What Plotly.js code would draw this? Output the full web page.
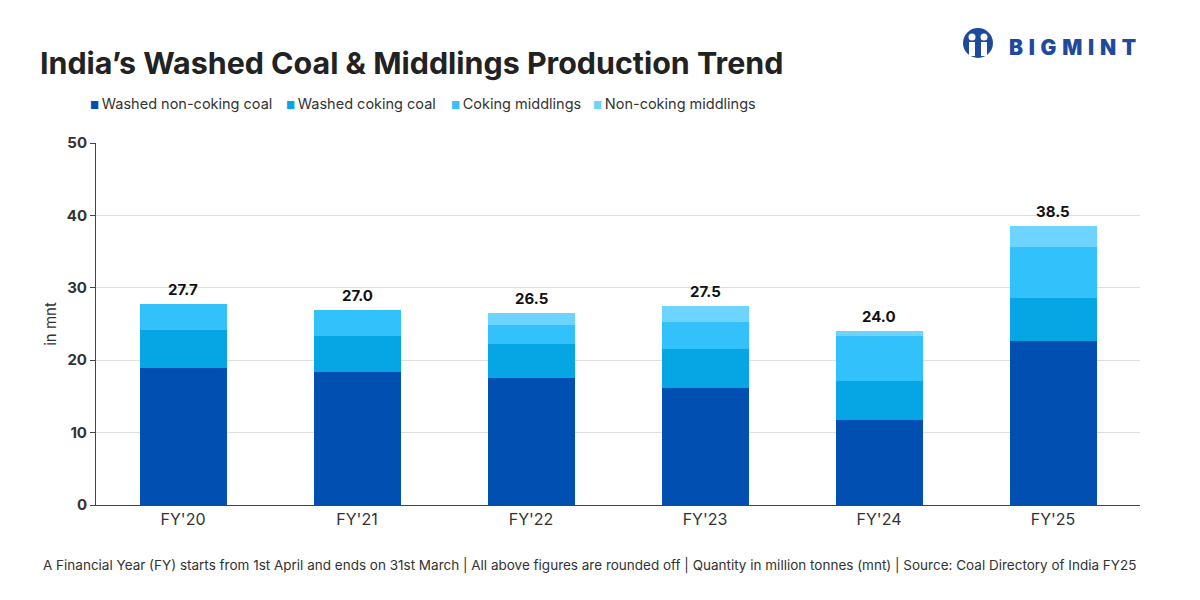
<!DOCTYPE html>
<html>
<head>
<meta charset="utf-8">
<script src="https://cdn.plot.ly/plotly-3.0.1.min.js"></script>
<style>html,body{margin:0;padding:0;background:#fff;}#chart{width:1200px;height:600px;}</style>
</head>
<body>
<div id="chart"></div>
<script>
const categories = ["FY'20", "FY'21", "FY'22", "FY'23", "FY'24", "FY'25"];
const washedNonCoking = [18.9, 18.4, 17.6, 16.2, 11.7, 22.6];
const washedCoking = [5.3, 4.9, 4.7, 5.3, 5.4, 6.0];
const cokingMiddlings = [3.5, 3.7, 2.5, 3.8, 6.2, 7.0];
const nonCokingMiddlings = [0, 0, 1.7, 2.2, 0.7, 2.9];
const totalLabels = ["27.7", "27.0", "26.5", "27.5", "24.0", "38.5"];
const seriesNames = ["Washed non-coking coal", "Washed coking coal", "Coking middlings", "Non-coking middlings"];
const seriesColors = ["#004FB1", "#05A6E3", "#33C1FB", "#6DD4FF"];
const seriesValues = [washedNonCoking, washedCoking, cokingMiddlings, nonCokingMiddlings];

// plot area in pixels
const PL = 96, PR = 1140, PT = 143, PB = 505;
const px = x => (x - PL) / (PR - PL);
const py = y => (PB - y) / (PB - PT);

const totals = categories.map((c, i) => seriesValues.reduce((s, arr) => s + arr[i], 0));

const traces = seriesValues.map((vals, k) => ({
  type: 'bar',
  name: seriesNames[k],
  x: categories,
  y: vals,
  marker: {color: seriesColors[k], line: {width: 0}},
  showlegend: false,
  hoverinfo: 'x+y+name'
}));

const FONT = 'Inter, Roboto, sans-serif';

const annotations = [];
// total labels
categories.forEach((c, i) => {
  annotations.push({
    x: c, y: totals[i], xref: 'x', yref: 'y',
    text: totalLabels[i], showarrow: false,
    yanchor: 'bottom', yshift: 3,
    font: {family: FONT, size: 15, color: '#111', weight: 'bold'}
  });
});
// legend (manual, to match compact spacing)
const legendX = [88, 284, 449, 591];
seriesNames.forEach((n, k) => {
  annotations.push({
    xref: 'paper', yref: 'paper', x: px(legendX[k]), y: py(104),
    xanchor: 'left', yanchor: 'middle', showarrow: false,
    text: '<span style="color:' + seriesColors[k] + ';font-size:10px">■</span>\u2009' + n,
    font: {family: FONT, size: 14.5, color: '#333'}
  });
});
// footnote
annotations.push({
  text: 'A Financial Year (FY) starts from 1st April and ends on 31st March | All above figures are rounded off | Quantity in million tonnes (mnt) | Source: Coal Directory of India FY25',
  xref: 'paper', yref: 'paper',
  x: px(589), y: py(565), xanchor: 'center', yanchor: 'middle',
  showarrow: false, font: {family: FONT, size: 13.5, color: '#333'}
});
// logo text
annotations.push({
  text: 'B\u2009\u2009I\u2009\u2009G\u2009\u2009M\u2009\u2009I\u2009\u2009N\u2009\u2009T',
  xref: 'paper', yref: 'paper',
  x: px(1007), y: py(48), xanchor: 'left', yanchor: 'middle',
  showarrow: false, font: {size: 21, color: '#1E4A9C', weight: 900, family: FONT}
});

const layout = {
  width: 1200,
  height: 600,
  barmode: 'stack',
  bargap: 0.5,
  showlegend: false,
  paper_bgcolor: '#fff',
  plot_bgcolor: '#fff',
  margin: {l: PL, r: 1200 - PR, t: PT, b: 600 - PB},
  font: {family: FONT, color: '#333', size: 15},
  title: {
    text: "India’s Washed Coal & Middlings Production Trend",
    font: {family: FONT, size: 30.4, color: '#222', weight: 'bold'},
    x: 40/1200, xanchor: 'left', xref: 'container',
    y: 1 - 63/600, yanchor: 'middle', yref: 'container'
  },
  xaxis: {
    type: 'category',
    showline: true, linecolor: '#444', linewidth: 1,
    ticks: '', showgrid: false,
    tickfont: {size: 16, color: '#333'}
  },
  yaxis: {
    range: [0, 50], dtick: 10,
    showline: true, linecolor: '#444', linewidth: 1,
    ticks: 'outside', ticklen: 5, tickcolor: '#444',
    gridcolor: '#dedede', gridwidth: 1,
    zeroline: false,
    tickfont: {size: 15, color: '#333', weight: 'bold'},
    title: {text: 'in mnt', font: {size: 15, color: '#333'}, standoff: 6}
  },
  annotations: annotations,
  shapes: [
    {type: 'circle', xref: 'paper', yref: 'paper', xsizemode: 'pixel', ysizemode: 'pixel',
     xanchor: px(978), yanchor: py(43), x0: -15, x1: 15, y0: -15, y1: 15,
     fillcolor: '#1E4A9C', line: {width: 0}},
    {type: 'circle', xref: 'paper', yref: 'paper', xsizemode: 'pixel', ysizemode: 'pixel',
     xanchor: px(972), yanchor: py(37), x0: -3.5, x1: 3.5, y0: -3.5, y1: 3.5,
     fillcolor: '#fff', line: {width: 0}},
    {type: 'circle', xref: 'paper', yref: 'paper', xsizemode: 'pixel', ysizemode: 'pixel',
     xanchor: px(984), yanchor: py(37), x0: -3.5, x1: 3.5, y0: -3.5, y1: 3.5,
     fillcolor: '#fff', line: {width: 0}},
    {type: 'rect', xref: 'paper', yref: 'paper', xsizemode: 'pixel', ysizemode: 'pixel',
     xanchor: px(972), yanchor: py(48), x0: -3, x1: 3, y0: -8, y1: 6,
     fillcolor: '#fff', line: {width: 0}},
    {type: 'rect', xref: 'paper', yref: 'paper', xsizemode: 'pixel', ysizemode: 'pixel',
     xanchor: px(984), yanchor: py(48), x0: -3, x1: 3, y0: -8, y1: 6,
     fillcolor: '#fff', line: {width: 0}}
  ]
};

Plotly.newPlot('chart', traces, layout, {displayModeBar: false, staticPlot: true});
</script>
</body>
</html>
